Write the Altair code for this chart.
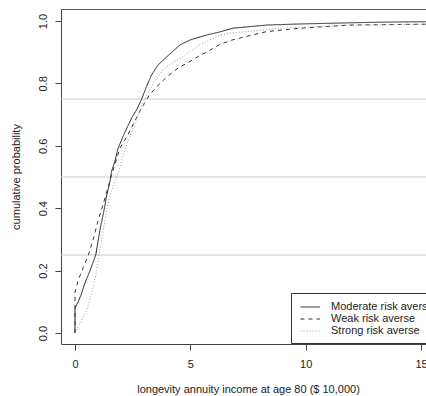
import altair as alt
import pandas as pd

# ---- data (ECDF curves) ----
series_names = ["Moderate risk averse", "Weak risk averse", "Strong risk averse"]

mod_x = [0, 0, 0.14, 0.29, 0.43, 0.65, 0.90, 1.08, 1.25, 1.37, 1.50, 1.59, 1.73, 1.86, 2.08, 2.46, 2.67,
         2.89, 3.10, 3.32, 3.60, 3.90, 4.20, 4.55, 4.98, 5.70, 6.28, 6.85, 8.30, 9.50, 11.2, 13.0, 15.5]
mod_y = [0, 0.08, 0.10, 0.128, 0.16, 0.20, 0.25, 0.33, 0.39, 0.44, 0.48, 0.52, 0.55, 0.59, 0.63, 0.69, 0.715,
         0.75, 0.79, 0.827, 0.859, 0.88, 0.90, 0.923, 0.939, 0.955, 0.965, 0.977, 0.987, 0.99, 0.993, 0.996, 0.998]

weak_x = [0, 0, 0.14, 0.36, 0.58, 0.79, 1.0, 1.23, 1.42, 1.6, 1.95, 2.24, 2.6, 2.8, 3.0, 3.2, 3.55, 3.97,
          4.48, 4.98, 5.42, 5.7, 6.28, 6.85, 8.3, 9.75, 11.9, 15.5]
weak_y = [0, 0.13, 0.17, 0.21, 0.25, 0.30, 0.36, 0.415, 0.464, 0.51, 0.593, 0.628, 0.68, 0.71, 0.735, 0.76,
          0.79, 0.82, 0.85, 0.87, 0.89, 0.90, 0.925, 0.94, 0.966, 0.977, 0.987, 0.99]

strong_x = [0, 0.22, 0.51, 0.72, 0.94, 1.08, 1.23, 1.37, 1.52, 1.66, 1.95, 2.08, 2.38, 2.74, 3.03, 3.39,
            3.83, 4.3, 4.68, 5.42, 6.28, 6.85, 9.0, 11.9, 15.5]
strong_y = [0, 0.03, 0.074, 0.128, 0.20, 0.266, 0.33, 0.394, 0.44, 0.47, 0.53, 0.57, 0.63, 0.70, 0.75, 0.80,
            0.845, 0.87, 0.885, 0.925, 0.955, 0.962, 0.977, 0.987, 0.99]

grid_levels = [0.25, 0.5, 0.75]
x_ticks = [0, 5, 10, 15]
y_ticks = [0.0, 0.2, 0.4, 0.6, 0.8, 1.0]

rows = []
for name, xs, ys in [(series_names[0], mod_x, mod_y), (series_names[1], weak_x, weak_y),
                     (series_names[2], strong_x, strong_y)]:
    for i, (a, b) in enumerate(zip(xs, ys)):
        rows.append({"series": name, "income": a, "prob": b, "order": i})
df = pd.DataFrame(rows)
grid_df = pd.DataFrame({"level": grid_levels})

FONT = "Liberation Sans"
W, H = 365, 335
xscale = alt.Scale(domain=[-0.607, 15.215], nice=False, zero=False)
yscale = alt.Scale(domain=[-0.0353, 1.0385], nice=False, zero=False)

grid = alt.Chart(grid_df).mark_rule(color="#cccccc", strokeWidth=1).encode(
    y=alt.Y("level:Q", scale=yscale)
)

top_border = alt.Chart(grid_df).mark_rule(color="#555555", strokeWidth=1).encode(
    x=alt.value(0), x2=alt.value(W), y=alt.value(0.5)
)

lines = alt.Chart(df).mark_line(strokeWidth=1, clip=True).encode(
    x=alt.X("income:Q", scale=xscale,
            axis=alt.Axis(values=x_ticks, title="longevity annuity income at age 80 ($ 10,000)",
                          titleX=187, titleY=48, titleAlign="center", titleBaseline="alphabetic",
                          labelPadding=8, format="d")),
    y=alt.Y("prob:Q", scale=yscale,
            axis=alt.Axis(values=y_ticks, title="cumulative probability", format=".1f",
                          labelAngle=270, labelAlign="center", labelBaseline="bottom",
                          labelPadding=7, titleX=-40, titleAngle=270, titleBaseline="bottom")),
    color=alt.Color("series:N", scale=alt.Scale(domain=series_names, range=["#222222", "#333333", "#999999"]),
                    legend=alt.Legend(title=None)),
    strokeDash=alt.StrokeDash("series:N", scale=alt.Scale(domain=series_names, range=[[1, 0], [4, 4], [1, 2]]),
                              legend=alt.Legend(title=None)),
    order="order:Q",
    detail="series:N",
)

chart = alt.layer(grid, top_border, lines).properties(
    width=W, height=H,
    autosize=alt.AutoSizeParams(type="none"),
    padding={"left": 61, "top": 9, "right": 0, "bottom": 52},
).configure(
    font=FONT,
).configure_view(
    stroke=None
).configure_axis(
    grid=False, domainColor="#444444", tickColor="#444444", tickSize=6,
    labelFont=FONT, titleFont=FONT, labelFontSize=11, titleFontSize=11,
    labelColor="#222222", titleColor="#222222", titleFontWeight="normal",
).configure_legend(
    orient="none", legendX=230, legendY=284, strokeColor="#333333", fillColor="white",
    padding=7, symbolType="M-0.7,0H2.3", symbolSize=169, symbolStrokeWidth=1,
    labelFont=FONT, labelFontSize=11, labelColor="#222222", labelOffset=19, rowPadding=0,
    cornerRadius=0,
)

chart.save("out.html", embed_options={"renderer": "svg", "actions": False})
